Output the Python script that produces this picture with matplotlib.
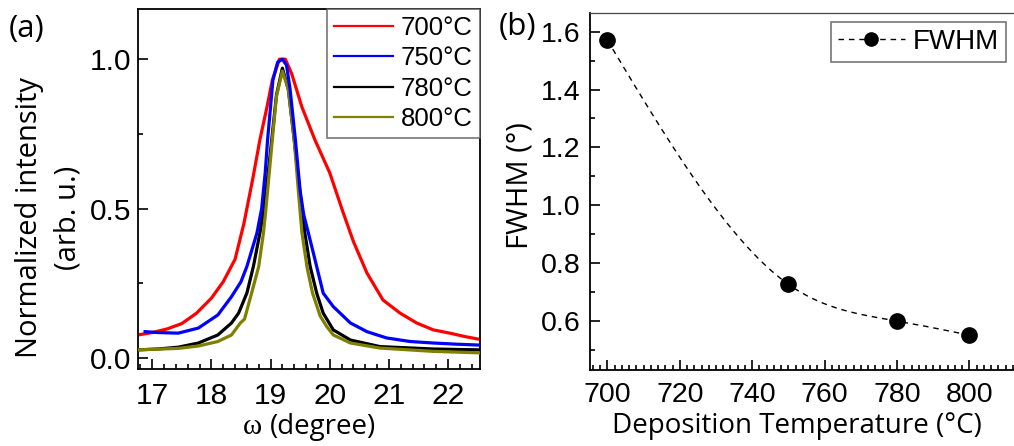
import numpy as np
import matplotlib
matplotlib.use("Agg")
import matplotlib.pyplot as plt
from matplotlib.ticker import MultipleLocator, FormatStrFormatter
from matplotlib.lines import Line2D

# ---- rocking curves (normalized intensity vs omega) ----
omega_700 = [16.76, 17.0, 17.25, 17.5, 17.75, 18.0, 18.2, 18.4, 18.55, 18.7, 18.82,
             18.94, 19.03, 19.15, 19.25, 19.36, 19.53, 19.75, 20.0, 20.23, 20.4,
             20.63, 20.9, 21.19, 21.47, 21.75, 22.03, 22.3, 22.54]
int_700 = [0.077, 0.085, 0.097, 0.115, 0.15, 0.2, 0.255, 0.33, 0.45, 0.6, 0.73,
           0.84, 0.93, 1.0, 1.0, 0.95, 0.84, 0.73, 0.62, 0.485, 0.39,
           0.284, 0.194, 0.15, 0.117, 0.094, 0.083, 0.071, 0.062]

omega_750 = [16.88, 17.1, 17.44, 17.78, 18.11, 18.34, 18.5, 18.6, 18.77, 18.85,
             18.91, 18.95, 19.0, 19.04, 19.12, 19.2, 19.27, 19.33, 19.42, 19.5,
             19.56, 19.64, 19.78, 19.89, 20.06, 20.35, 20.63, 20.96, 21.36,
             21.75, 22.15, 22.54]
int_750 = [0.088, 0.085, 0.083, 0.1, 0.144, 0.205, 0.255, 0.306, 0.418, 0.5,
           0.62, 0.73, 0.84, 0.93, 0.99, 1.0, 0.98, 0.9, 0.73, 0.56,
           0.48, 0.418, 0.306, 0.217, 0.172, 0.117, 0.088, 0.067, 0.055,
           0.05, 0.046, 0.043]

omega_780 = [16.76, 17.1, 17.44, 17.78, 18.11, 18.34, 18.46, 18.6, 18.71, 18.82,
             18.89, 18.96, 19.02, 19.1, 19.2, 19.3, 19.4, 19.47, 19.58, 19.67,
             19.78, 19.89, 20.06, 20.35, 20.85, 21.75, 22.54]
int_780 = [0.027, 0.03, 0.036, 0.05, 0.077, 0.117, 0.15, 0.217, 0.306, 0.418,
           0.5, 0.62, 0.73, 0.88, 0.97, 0.9, 0.73, 0.6, 0.418, 0.306,
           0.217, 0.15, 0.094, 0.06, 0.038, 0.03, 0.027]

omega_800 = [16.76, 17.44, 17.78, 18.11, 18.34, 18.49, 18.56, 18.68, 18.8, 18.88,
             18.92, 19.03, 19.1, 19.2, 19.3, 19.4, 19.47, 19.53, 19.62, 19.71,
             19.84, 19.95, 20.06, 20.35, 20.85, 21.75, 22.54]
int_800 = [0.027, 0.032, 0.04, 0.055, 0.077, 0.117, 0.13, 0.217, 0.306, 0.418,
           0.495, 0.73, 0.875, 0.96, 0.9, 0.73, 0.56, 0.42, 0.3, 0.217,
           0.14, 0.105, 0.077, 0.05, 0.033, 0.022, 0.017]

series_labels = ["700°C", "750°C", "780°C", "800°C"]
series_colors = ["#ff0000", "#0000ff", "#000000", "#808000"]

# ---- FWHM vs deposition temperature ----
dep_temp = [700, 750, 780, 800]
fwhm = [1.571, 0.726, 0.599, 0.55]


def natural_spline(x, y, n=200):
    """Natural cubic spline through (x, y), sampled for a smooth connector."""
    x = np.asarray(x, float)
    y = np.asarray(y, float)
    h = np.diff(x)
    d = np.diff(y) / h
    m = len(x)
    A = np.zeros((m, m))
    b = np.zeros(m)
    A[0, 0] = A[-1, -1] = 1.0
    for i in range(1, m - 1):
        A[i, i - 1] = h[i - 1]
        A[i, i] = 2 * (h[i - 1] + h[i])
        A[i, i + 1] = h[i]
        b[i] = 6 * (d[i] - d[i - 1])
    M = np.linalg.solve(A, b)
    xs = np.linspace(x[0], x[-1], n)
    idx = np.clip(np.searchsorted(x, xs) - 1, 0, m - 2)
    t0 = xs - x[idx]
    t1 = x[idx + 1] - xs
    hi = h[idx]
    ys = (M[idx] * t1 ** 3 + M[idx + 1] * t0 ** 3) / (6 * hi) \
        + (y[idx] / hi - M[idx] * hi / 6) * t1 \
        + (y[idx + 1] / hi - M[idx + 1] * hi / 6) * t0
    return xs, ys


plt.rcParams["font.family"] = ["Liberation Sans", "DejaVu Sans"]
LABEL_FONT = ["Open Sans", "DejaVu Sans"]

W, H = 1014, 446
fig = plt.figure(figsize=(W / 100, H / 100), dpi=100)


def frac_box(x0, y0, x1, y1):
    return [x0 / W, 1 - y1 / H, (x1 - x0) / W, (y1 - y0) / H]


# ---------------- panel (a) ----------------
ax1 = fig.add_axes(frac_box(138, 9, 480, 369))
curves = [(omega_700, int_700), (omega_750, int_750),
          (omega_780, int_780), (omega_800, int_800)]
zorders = [2, 5, 3, 4]
for (xv, yv), c, z in zip(curves, series_colors, zorders):
    ax1.plot(xv, yv, color=c, lw=2.3, zorder=z, solid_joinstyle="round")

ax1.set_xlim(16.76, 22.54)
ax1.set_ylim(-0.037, 1.168)
ax1.xaxis.set_major_locator(MultipleLocator(1))
ax1.xaxis.set_minor_locator(MultipleLocator(0.2))
ax1.yaxis.set_major_locator(MultipleLocator(0.5))
ax1.yaxis.set_minor_locator(MultipleLocator(0.25))
ax1.tick_params(which="both", direction="in", top=False, right=False,
                width=1.2, labelsize=21.5)
ax1.tick_params(axis="x", which="major", length=7, pad=9)
ax1.tick_params(axis="y", which="major", length=7, pad=5)
ax1.tick_params(which="minor", length=3.5)
for s in ax1.spines.values():
    s.set_linewidth(1.3)

handles = [Line2D([], [], color=c, lw=1.6) for c in series_colors]
leg1 = ax1.legend(handles, series_labels, loc="upper right", fontsize=18.5,
                  frameon=True, fancybox=False, edgecolor="#555555",
                  borderaxespad=0.0, handlelength=2.3, handletextpad=0.3,
                  labelspacing=0.24, borderpad=0.28)
leg1.get_frame().set_linewidth(1.2)

fig.text(27 / W, 1 - 29 / H, "(a)", fontsize=22.5, family=LABEL_FONT,
         ha="center", va="center")
fig.text(49 / W, 1 - 218 / H, "Normalized intensity\n(arb. u.)",
         fontsize=21, family=LABEL_FONT, rotation=90, ha="center",
         va="center", multialignment="center", linespacing=1.45)
fig.text(262 / W, 1 - 434 / H, "ω", fontsize=21,
         family=["Liberation Serif", "DejaVu Serif"], ha="right", va="baseline")
fig.text(270 / W, 1 - 434 / H, "(degree)", fontsize=20, family=LABEL_FONT,
         ha="left", va="baseline")

# ---------------- panel (b) ----------------
ax2 = fig.add_axes(frac_box(590, 13, 1014, 370))
sx, sy = natural_spline(dep_temp, fwhm)
ax2.plot(sx, sy, color="black", lw=1.0, ls=(0, (4, 3.5)), zorder=2)
ax2.plot(dep_temp, fwhm, ls="none", marker="o", ms=11, color="black",
         zorder=3)
ax2.set_xlim(695.2, 812.3)
ax2.set_ylim(0.4294, 1.665)
ax2.xaxis.set_major_locator(MultipleLocator(20))
ax2.xaxis.set_minor_locator(MultipleLocator(2))
ax2.yaxis.set_major_locator(MultipleLocator(0.2))
ax2.yaxis.set_minor_locator(MultipleLocator(0.1))
ax2.yaxis.set_major_formatter(FormatStrFormatter("%.1f"))
ax2.tick_params(which="both", direction="in", top=False, right=False,
                width=1.2, labelsize=20.5)
ax2.tick_params(axis="x", which="major", length=7, pad=9)
ax2.tick_params(axis="y", which="major", length=7, pad=7)
ax2.tick_params(which="minor", length=3.5)
ax2.spines["right"].set_visible(False)
for s in ax2.spines.values():
    s.set_linewidth(1.3)
ax2.spines["top"].set_linewidth(0.9)
ax2.spines["top"].set_color("#444444")

fw_handle = Line2D([], [], color="black", lw=1.0, ls=(0, (4, 3.5)),
                   marker="o", ms=9.5)
leg2 = ax2.legend([fw_handle], ["FWHM"], loc="upper right",
                  bbox_to_anchor=((1006 - 590) / 424, 1 - (22 - 13) / 357),
                  fontsize=20, frameon=True, fancybox=False,
                  edgecolor="#555555", borderaxespad=0.0, handlelength=2.4,
                  handletextpad=0.3, borderpad=0.25)
leg2.get_frame().set_linewidth(1.2)

fig.text(518 / W, 1 - 27 / H, "(b)", fontsize=22.5, family=LABEL_FONT,
         ha="center", va="center")
fig.text(520 / W, 1 - 186 / H, "FWHM (°)", fontsize=21, family=LABEL_FONT,
         rotation=90, ha="center", va="center")
fig.text(797 / W, 1 - 433 / H, "Deposition Temperature (°C)", fontsize=20,
         family=LABEL_FONT, ha="center", va="baseline")

fig.savefig("out.png", dpi=100)
